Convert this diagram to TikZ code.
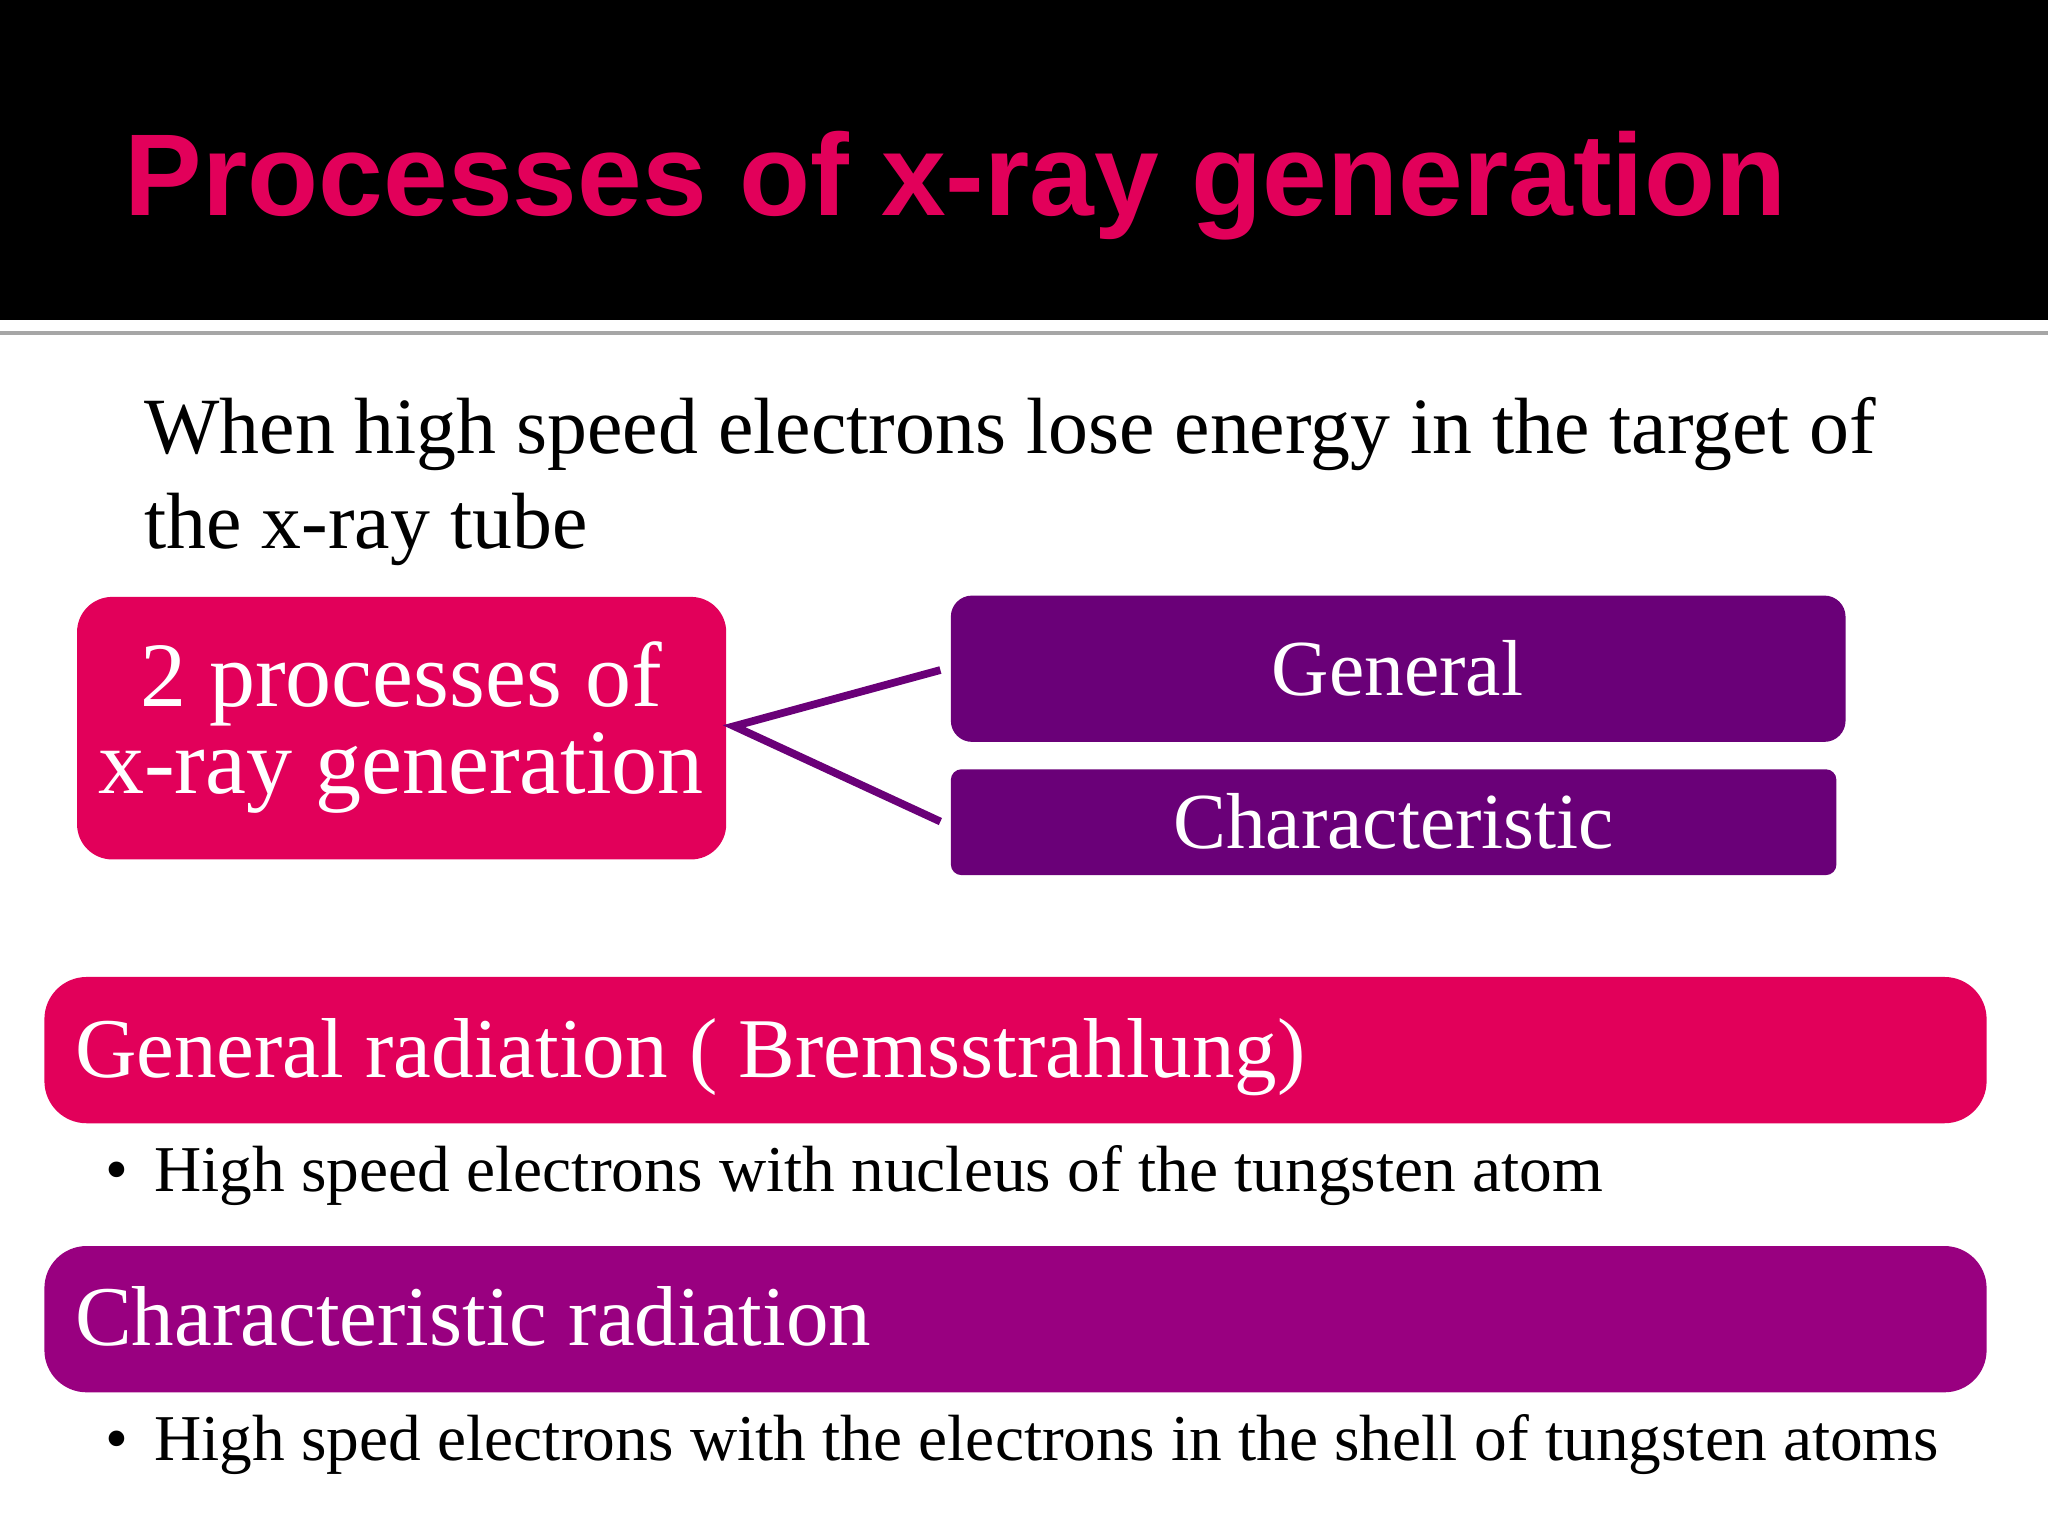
\documentclass[tikz,border=0pt]{standalone}
\usepackage{fontspec}
\setmainfont{Liberation Serif}
\newfontfamily\titlefont{Liberation Sans}
\definecolor{pinkc}{HTML}{E2005A}
\definecolor{purpd}{HTML}{6A0078}
\definecolor{purpm}{HTML}{990080}
\begin{document}
\begin{tikzpicture}[x=0.01306cm,y=-0.01306cm,
  rbox/.style={rounded corners=10pt,inner sep=0pt},
  txt/.style={inner sep=0pt,anchor=base west,font=\fontsize{22.7}{30}\selectfont}]
\useasboundingbox (0,0) rectangle (1568,1176);
\fill[black] (0,0) rectangle (1568,245);
\draw[gray!70,line width=1.2pt] (0,255) -- (1568,255);
\node[txt,anchor=base west,text=pinkc,font=\titlefont\bfseries\fontsize{33.1}{40}\selectfont] (title) at (95,165) {Processes of x-ray generation};
\node[txt] (intro1) at (110,347) {When high speed electrons lose energy in the target of};
\node[txt] (intro2) at (110,420) {the x-ray tube};
\fill[pinkc,rbox] (59,457) rectangle (556,658);
\node[text=white,align=center,font=\fontsize{26.2}{25}\selectfont,inner sep=0pt] (two) at (307,557) {2 processes of\\x-ray generation};
\fill[purpd,rounded corners=6pt] (728,456) rectangle (1413,568);
\node[text=white,font=\fontsize{22.6}{30}\selectfont] (gen) at (1070,512) {General};
\fill[purpd,rounded corners=3pt] (728,589) rectangle (1406,670);
\node[text=white,font=\fontsize{22.6}{30}\selectfont] (char) at (1067,629) {Characteristic};
\coordinate (fork) at (562,556);
\coordinate (ga) at (720,513);
\coordinate (ca) at (720,629);
\draw[purpd,line width=2.2pt] (ga) -- (fork) -- (ca);
\fill[pinkc,rounded corners=12pt] (34,748) rectangle (1521,860);
\node[txt,text=white,font=\fontsize{24.2}{30}\selectfont] (gr) at (57,825) {General radiation ( Bremsstrahlung)};
\node[txt,font=\fontsize{18.6}{24}\selectfont] (b1) at (80,912) {•\hspace{7.5pt}High speed electrons with nucleus of the tungsten atom};
\fill[purpm,rounded corners=12pt] (34,954) rectangle (1521,1066);
\node[txt,text=white,font=\fontsize{24.2}{30}\selectfont] (cr) at (57,1030) {Characteristic radiation};
\node[txt,font=\fontsize{18.6}{24}\selectfont] (b2) at (80,1118) {•\hspace{7.5pt}High sped electrons with the electrons in the shell of tungsten atoms};
\end{tikzpicture}
\end{document}
